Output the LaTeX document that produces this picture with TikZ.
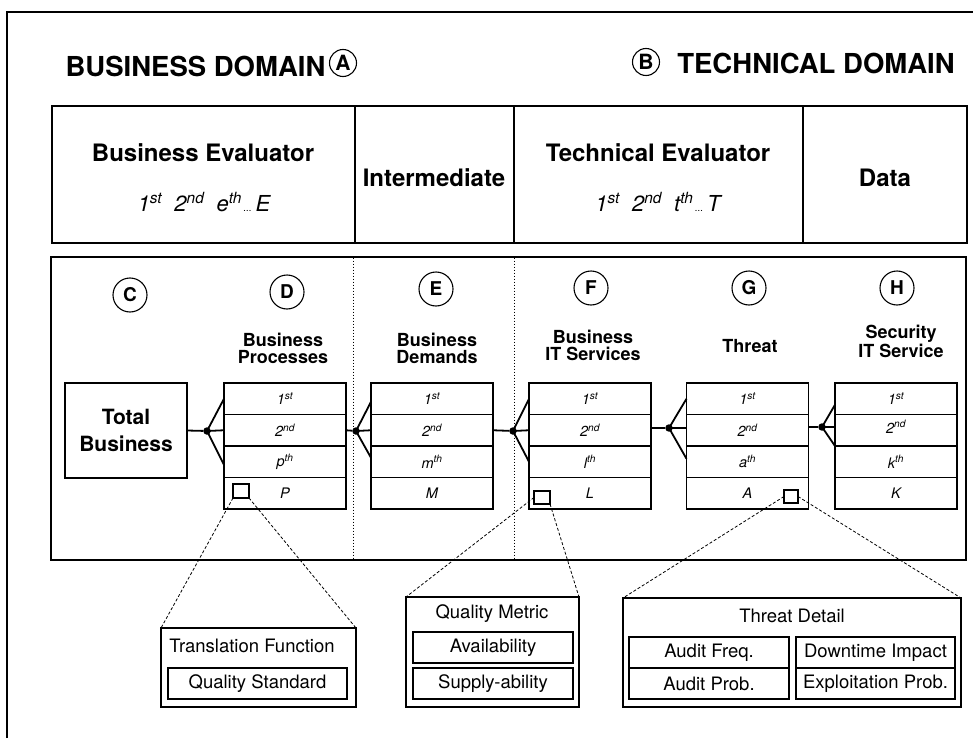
\documentclass[tikz,border=0pt]{standalone}
\usepackage{fontspec}
\setmainfont{TeX Gyre Heros}
\usetikzlibrary{calc}

% font shortcuts
\newcommand\domfont{\fontsize{27.5}{30}\selectfont\bfseries}
\newcommand\lettfont{\fontsize{19}{20}\selectfont\bfseries}
\newcommand\domlettfont{\fontsize{21}{22}\selectfont\bfseries}
\newcommand\hdfont{\fontsize{24}{26}\selectfont\bfseries}
\newcommand\ordfont{\fontsize{22}{24}\selectfont\itshape}
\newcommand\colfont{\fontsize{18}{17}\selectfont\bfseries}
\newcommand\tbfont{\fontsize{21}{27}\selectfont\bfseries}
\newcommand\rowfont{\fontsize{14.5}{16}\selectfont\itshape}
\newcommand\detfont{\fontsize{18.5}{20}\selectfont}
\newcommand\sfx[2]{#1\textsuperscript{#2}}

% one stack of four rows: name, centre x, four labels
\newcommand\rowstack[6]{%
  \node[rowbox] (#1r1) at (#2,398.75) {#3};
  \node[rowbox] (#1r2) at (#2,430.25) {#4};
  \node[rowbox] (#1r3) at (#2,461.75) {#5};
  \node[rowbox] (#1r4) at (#2,493.25) {#6};
}

\begin{document}
\begin{tikzpicture}[x=1pt,y=-1pt,
  every node/.style={inner sep=0pt, outer sep=0pt},
  frameline/.style={line width=2.4pt},
  cell/.style={draw, rectangle, line width=1.6pt},
  rowbox/.style={draw, rectangle, line width=1.8pt, minimum width=122pt,
    minimum height=31.5pt, font=\rowfont},
  letter/.style={draw, circle, line width=1.1pt, minimum size=34pt, font=\lettfont},
  domletter/.style={draw, circle, line width=1.1pt, minimum size=27pt, font=\domlettfont},
  coltitle/.style={align=center, font=\colfont},
  junction/.style={circle, fill=black, minimum size=7.5pt},
  link/.style={line width=1.8pt},
  divider/.style={line width=0.9pt, dash pattern=on 1.6pt off 1.4pt},
  zoomline/.style={line width=0.8pt, dash pattern=on 3pt off 2pt},
  handle/.style={draw, rectangle, line width=1.2pt, fill=white},
  detbox/.style={draw, rectangle, line width=1.3pt},
  dettext/.style={font=\detfont}
]
\useasboundingbox (0,0) rectangle (973,738);

% outer frame (runs off the page at right and bottom)
\draw[frameline] (7,738) -- (7,12) -- (973,12);

% domain headings
\node[font=\domfont] (bdom) at (195.5,66) {BUSINESS DOMAIN};
\node[domletter] (la) at (343,63) {A};
\node[domletter] (lb) at (646,62) {B};
\node[font=\domfont] (tdom) at (816,63) {TECHNICAL DOMAIN};

% evaluator header
\node[cell, minimum width=303pt, minimum height=137pt] (hbe) at (203.5,174.5) {};
\node[cell, minimum width=159pt, minimum height=137pt] (him) at (434.5,174.5) {};
\node[cell, minimum width=289pt, minimum height=137pt] (hte) at (658.5,174.5) {};
\node[cell, minimum width=164pt, minimum height=137pt] (hda) at (885,174.5) {};
\node[font=\hdfont] (hbet) at (203,153) {Business Evaluator};
\node[font=\ordfont] (hbes) at (204,202) {\sfx{1}{st}\ \ \sfx{2}{nd}\ \ \sfx{e}{th}{\fontsize{10}{10}\selectfont\,...}\,E};
\node[font=\hdfont] (himt) at (434,178) {Intermediate};
\node[font=\hdfont] (htet) at (658,153) {Technical Evaluator};
\node[font=\ordfont] (htes) at (658,202) {\sfx{1}{st}\ \ \sfx{2}{nd}\ \ \sfx{t}{th}{\fontsize{10}{10}\selectfont\,...}\,T};
\node[font=\hdfont] (hdat) at (885,178) {Data};

% main panel and its dotted dividers
\draw[line width=2pt] (51,256.5) rectangle (966,560);
\coordinate (dv1t) at (353,257.5);
\coordinate (dv1b) at (353,559);
\coordinate (dv2t) at (514,257.5);
\coordinate (dv2b) at (514,559);
\draw[divider] (dv1t) -- (dv1b);
\draw[divider] (dv2t) -- (dv2b);

% circled column letters
\node[letter] (lc) at (130,295) {C};
\node[letter] (ld) at (287,292) {D};
\node[letter] (le) at (436,289) {E};
\node[letter] (lf) at (591,288) {F};
\node[letter] (lg) at (749,288) {G};
\node[letter] (lh) at (897,288) {H};

% column titles
\node[coltitle] (td) at (283,348) {Business\\Processes};
\node[coltitle] (te) at (437,348) {Business\\Demands};
\node[coltitle] (tf) at (593,345.5) {Business\\IT Services};
\node[coltitle] (tg) at (750,346) {Threat};
\node[coltitle] (th) at (901,341.5) {Security\\IT Service};

% total business
\node[draw, rectangle, line width=1.8pt, minimum width=122pt, minimum height=95pt,
  align=center, font=\tbfont] (tb) at (126,430.5) {Total\\Business};

% row stacks
\rowstack{d}{285}{\sfx{1}{st}}{\sfx{2}{nd}}{\sfx{p}{th}}{P}
\rowstack{e}{432}{\sfx{1}{st}}{\sfx{2}{nd}}{\sfx{m}{th}}{M}
\rowstack{f}{590}{\sfx{1}{st}}{\sfx{2}{nd}}{\sfx{l}{th}}{L}
\rowstack{g}{747.5}{\sfx{1}{st}}{\sfx{2}{nd}}{\sfx{a}{th}}{A}
\rowstack{h}{896}{\sfx{1}{st}}{\raisebox{7pt}{\sfx{2}{nd}}}{\sfx{k}{th}}{K}

% junctions
\node[junction] (jd) at (207,431) {};
\node[junction] (je) at (356,431) {};
\node[junction] (jf) at (513,431) {};
\node[junction] (jg) at (669,428) {};
\node[junction] (jh) at (822,427) {};

% connectors and fans
\draw[link] (tb.east) -- (jd);
\draw[link] (dr1.west) -- (jd.center) -- ([yshift=-3pt]dr3.west);
\draw[link] (jd.center) -- (dr2.west);

\draw[link] (dr2.east) -- (je);
\draw[link] ([yshift=-3pt]er1.west) -- (je.center) -- ([yshift=4pt]er3.west);
\draw[link] (je.center) -- (er2.west);

\draw[link] (er2.east) -- (jf);
\draw[link] (fr1.west) -- (jf.center) -- (fr3.west);
\draw[link] (jf.center) -- (fr2.west);

\draw[link] (jg -| fr2.east) -- (jg);
\draw[link] (gr1.west) -- (jg.center) -- ([yshift=3pt]gr3.west);
\draw[link] (jg.center) -- (jg -| gr2.west);

\draw[link] (jh -| gr2.east) -- (jh);
\draw[link] ([yshift=-6pt]hr1.west) -- (jh.center) -- (hr2.south west);
\draw[link] (jh.center) -- (jh -| hr2.west);

% detail boxes
\node[detbox, minimum width=195pt, minimum height=79pt] (trf) at (258.5,667.5) {};
\node[dettext] (trft) at (252,646) {Translation Function};
\node[detbox, minimum width=179pt, minimum height=31pt, font=\detfont] (qst) at (257.5,683.5) {Quality Standard};

\node[detbox, minimum width=173pt, minimum height=110pt] (qmt) at (492.5,652) {};
\node[dettext] (qmtt) at (492,614) {Quality Metric};
\node[detbox, minimum width=160pt, minimum height=31pt, font=\detfont] (avl) at (493,647.5) {Availability};
\node[detbox, minimum width=160pt, minimum height=31pt, font=\detfont] (sup) at (493,683.5) {Supply-ability};

\node[detbox, minimum width=338pt, minimum height=109pt] (tdt) at (792,652.5) {};
\node[dettext] (tdtt) at (792,616) {Threat Detail};
\node[detbox, minimum width=160pt, minimum height=31pt, font=\detfont] (afq) at (709,652.5) {Audit Freq.};
\node[detbox, minimum width=160pt, minimum height=31pt, font=\detfont] (apb) at (709,683.5) {Audit Prob.};
\node[detbox, minimum width=159pt, minimum height=31pt, font=\detfont] (dti) at (875.5,652.5) {Downtime Impact};
\node[detbox, minimum width=159pt, minimum height=31pt, font=\detfont] (epb) at (875.5,683.5) {Exploitation Prob.};

% zoom handles
\node[handle, minimum width=16pt, minimum height=14pt] (hd) at (241,491) {};
\node[handle, minimum width=16pt, minimum height=13pt] (hf) at (542,497.5) {};
\node[handle, minimum width=14pt, minimum height=13pt] (hg) at (791,496.5) {};

% zoom lines
\draw[zoomline] (hd.south west) -- (trf.north west);
\draw[zoomline] (hd.south east) -- (trf.north east);
\draw[zoomline] (hf.west) -- (qmt.north west);
\draw[zoomline] (hf.south east) -- (qmt.north east);
\draw[zoomline] (hg.west) -- (tdt.north west);
\draw[zoomline] (hg.east) -- (tdt.north east);
\end{tikzpicture}
\end{document}
